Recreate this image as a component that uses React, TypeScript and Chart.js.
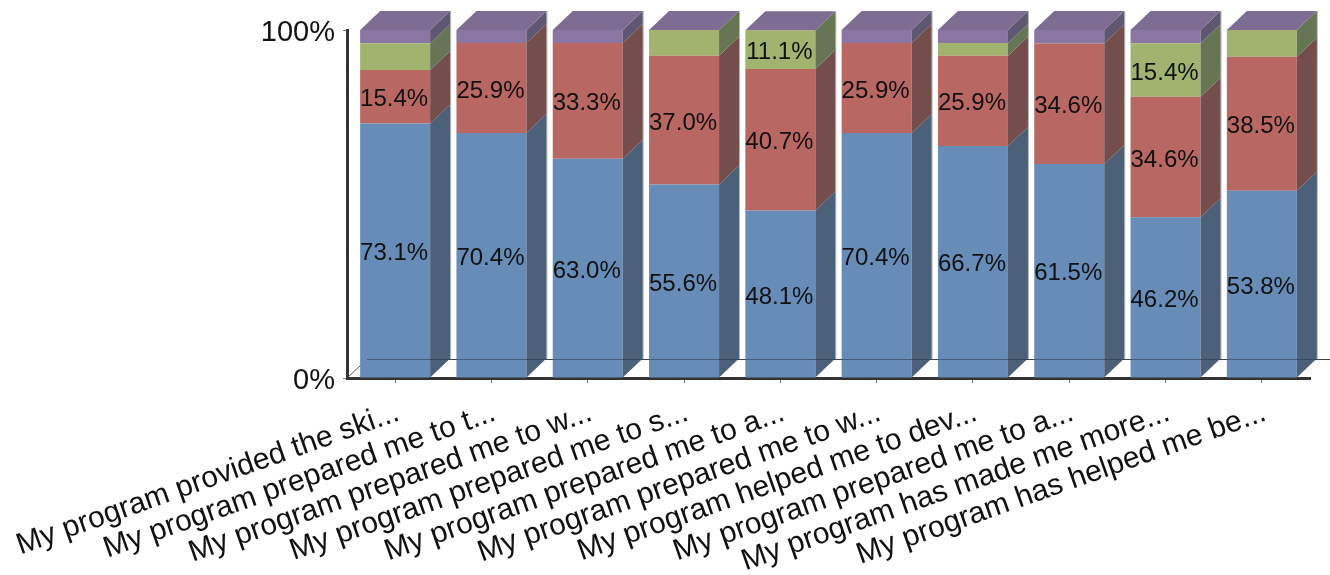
import React, { useEffect, useRef } from "react";
import { Chart, registerables } from "chart.js";

Chart.register(...registerables);

const categories = [
  "My program provided the ski...",
  "My program prepared me to t...",
  "My program prepared me to w...",
  "My program prepared me to s...",
  "My program prepared me to a...",
  "My program prepared me to w...",
  "My program helped me to dev...",
  "My program prepared me to a...",
  "My program has made me more...",
  "My program has helped me be...",
];
const blueValues = [73.1, 70.4, 63.0, 55.6, 48.1, 70.4, 66.7, 61.5, 46.2, 53.8];
const redValues = [15.4, 25.9, 33.3, 37.0, 40.7, 25.9, 25.9, 34.6, 34.6, 38.5];
const greenValues = [7.7, 0, 0, 7.4, 11.1, 0, 3.7, 0, 15.4, 7.7];
const purpleValues = [3.8, 3.7, 3.7, 0, 0, 3.7, 3.7, 3.9, 3.8, 0];
const yTicks = [0, 100];

const DEPTH_X = 20;
const DEPTH_Y = 19;
const FONT = '"Liberation Sans", Arial, sans-serif';
const TOP_COLOR = "#7e6d92";
const SIDE_COLORS = ["#4c6079", "#744e4d", "#667553", "#5f5672"];
const LABEL_MIN = 10;

const faces3d = {
  id: "faces3d",
  beforeDatasetsDraw(chart: any) {
    const ctx = chart.ctx;
    const { left, right, bottom } = chart.chartArea;
    ctx.save();
    // floor
    ctx.strokeStyle = "#555";
    ctx.lineWidth = 1;
    ctx.beginPath();
    ctx.moveTo(left + 1, bottom - 1);
    ctx.lineTo(left + DEPTH_X, bottom - DEPTH_Y + 0.5);
    ctx.lineTo(right + DEPTH_X, bottom - DEPTH_Y + 0.5);
    ctx.stroke();
    ctx.restore();
  },
  afterDatasetsDraw(chart: any) {
    const ctx = chart.ctx;
    const { left, right, bottom } = chart.chartArea;
    ctx.save();
    chart.data.datasets.forEach((_: any, di: number) => {
      const meta = chart.getDatasetMeta(di);
      meta.data.forEach((bar: any) => {
        const r = bar.x + bar.width / 2;
        if (Math.abs(bar.base - bar.y) < 0.01) return;
        ctx.fillStyle = SIDE_COLORS[di];
        ctx.beginPath();
        ctx.moveTo(r, bar.y);
        ctx.lineTo(r + DEPTH_X, bar.y - DEPTH_Y);
        ctx.lineTo(r + DEPTH_X, bar.base - DEPTH_Y);
        ctx.lineTo(r, bar.base);
        ctx.closePath();
        ctx.fill();
      });
    });
    // top faces and edge shading, taken from the top of each stack
    const lastMeta = chart.getDatasetMeta(chart.data.datasets.length - 1);
    lastMeta.data.forEach((bar: any) => {
      const l = bar.x - bar.width / 2;
      const r = bar.x + bar.width / 2;
      ctx.fillStyle = TOP_COLOR;
      ctx.beginPath();
      ctx.moveTo(l, bar.y);
      ctx.lineTo(l + DEPTH_X, bar.y - DEPTH_Y);
      ctx.lineTo(r + DEPTH_X, bar.y - DEPTH_Y);
      ctx.lineTo(r, bar.y);
      ctx.closePath();
      ctx.fill();
      ctx.strokeStyle = "rgba(90,90,90,0.45)";
      ctx.lineWidth = 1;
      ctx.beginPath();
      ctx.moveTo(r + DEPTH_X + 0.5, bar.y - DEPTH_Y);
      ctx.lineTo(r + DEPTH_X + 0.5, bottom - DEPTH_Y);
      ctx.stroke();
    });
    // floor line seen through the bars
    ctx.strokeStyle = "rgba(40,55,75,0.55)";
    ctx.lineWidth = 1;
    ctx.beginPath();
    ctx.moveTo(left + DEPTH_X, bottom - DEPTH_Y + 0.5);
    ctx.lineTo(right + DEPTH_X, bottom - DEPTH_Y + 0.5);
    ctx.stroke();
    // value labels
    ctx.fillStyle = "#111";
    ctx.font = `24px ${FONT}`;
    ctx.textAlign = "center";
    ctx.textBaseline = "middle";
    chart.data.datasets.forEach((ds: any, di: number) => {
      const meta = chart.getDatasetMeta(di);
      meta.data.forEach((bar: any, i: number) => {
        const v = ds.data[i];
        if (v < LABEL_MIN) return;
        ctx.fillText(`${v.toFixed(1)}%`, bar.x - 1, (bar.y + bar.base) / 2 + 3);
      });
    });
    ctx.restore();
  },
};

export default function App() {
  const ref = useRef<HTMLCanvasElement>(null);
  useEffect(() => {
    const mk = (label: string, data: number[], color: string) => ({
      label,
      data,
      backgroundColor: color,
      borderWidth: 0,
      barPercentage: 0.727,
      categoryPercentage: 1,
      stack: "s",
    });
    const chart = new Chart(ref.current as HTMLCanvasElement, {
      type: "bar",
      data: {
        labels: categories,
        datasets: [
          mk("Blue", blueValues, "#678cb8"),
          mk("Red", redValues, "#b96763"),
          mk("Green", greenValues, "#a0b470"),
          mk("Purple", purpleValues, "#8a76a3"),
        ],
      },
      options: {
        responsive: false,
        animation: false,
        layout: { padding: { top: 30, right: 20, left: 0, bottom: 0 } },
        plugins: { legend: { display: false }, tooltip: { enabled: false } },
        scales: {
          x: {
            stacked: true,
            grid: { drawOnChartArea: false, drawTicks: true, tickLength: 5, tickColor: "#777", offset: false },
            border: { color: "#333", width: 3 },
            ticks: {
              autoSkip: false,
              minRotation: 19.5,
              maxRotation: 19.5,
              color: "#111",
              font: { family: FONT, size: 30 },
              padding: 12,
              labelOffset: 3,
            },
            afterFit(scale: any) {
              scale.height = 197;
              scale.paddingLeft = 0;
              scale.paddingRight = 0;
            },
          },
          y: {
            stacked: true,
            min: 0,
            max: 100,
            afterBuildTicks(scale: any) {
              scale.ticks = yTicks.map((value) => ({ value }));
            },
            grid: { drawOnChartArea: false, drawTicks: true, tickLength: 4, tickColor: "#777" },
            border: { color: "#333", width: 3 },
            ticks: {
              color: "#111",
              font: { family: FONT, size: 29 },
              padding: 8,
              labelOffset: 3,
              callback: (v: any) => `${v}%`,
            },
            afterFit(scale: any) {
              scale.width = 347;
              scale.paddingTop = 0;
              scale.paddingBottom = 0;
            },
          },
        },
      },
      plugins: [faces3d],
    } as any);
    return () => chart.destroy();
  }, []);
  return (
    <div style={{ position: "absolute", left: 0, top: 0, width: 1330, height: 575, background: "#fff" }}>
      <canvas ref={ref} width={1330} height={575} style={{ display: "block" }} />
    </div>
  );
}
